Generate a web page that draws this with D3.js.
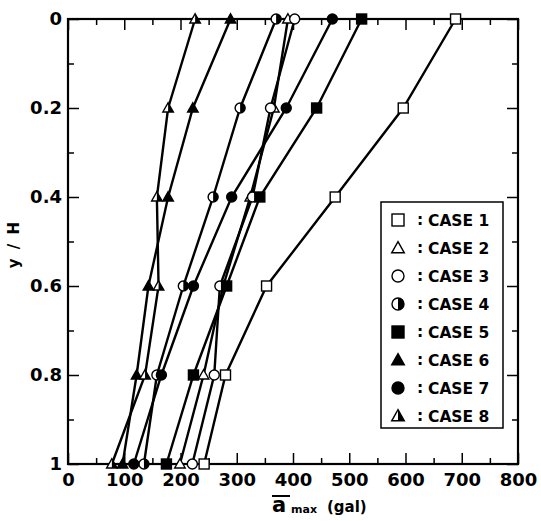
<!DOCTYPE html>
<html>
  <head>
    <title>amax-profile</title>
    <style>
      html,
      body {
        padding: 0;
        margin: 0;
        background: #fff;
      }
      svg {
        display: block;
        font-family: 'DejaVu Sans', sans-serif;
        font-weight: bold;
      }
    </style>
  </head>
  <body>
    <svg width="541" height="521"></svg>

    <script src="https://cdn.jsdelivr.net/npm/d3@7"></script>
    <script>
      // y / H levels
      const levels = [0, 0.2, 0.4, 0.6, 0.8, 1];
      // amax (gal) per case, read top to bottom
      const case1 = [689, 596, 475, 353, 280, 242];
      const case2 = [391, 366, 324, 276, 241, 199];
      const case3 = [403, 360, 328, 270, 260, 221];
      const case4 = [370, 306, 258, 205, 158, 135];
      const case5 = [522, 442, 341, 282, 223, 175];
      const case6 = [289, 222, 178, 143, 122, 97];
      const case7 = [470, 388, 291, 223, 166, 117];
      const case8 = [226, 178, 158, 161, 137, 78];
      const caseNames = ['CASE 1', 'CASE 2', 'CASE 3', 'CASE 4', 'CASE 5', 'CASE 6', 'CASE 7', 'CASE 8'];
      const caseMarks = ['square', 'triangle', 'circle', 'halfCircle', 'filledSquare', 'filledTriangle', 'filledCircle', 'halfTriangle'];
      const xMajorTicks = [0, 100, 200, 300, 400, 500, 600, 700, 800];
      const xMinorTicks = [50, 150, 250, 350, 450, 550, 650, 750];
      const yMajorTicks = [0, 0.2, 0.4, 0.6, 0.8, 1];
      const yMinorTicks = [0.1, 0.3, 0.5, 0.7, 0.9];
    </script>
    <script>
      const svg = d3.select('svg');
      const plotL = 68, plotR = 518, plotT = 19, plotB = 464;

      const x = d3.scaleLinear().domain([0, 800]).range([plotL, plotR]);
      const y = d3.scaleLinear().domain([0, 1]).range([plotT, plotB]);

      const series = [case1, case2, case3, case4, case5, case6, case7, case8].map((vals, i) => ({
        name: caseNames[i],
        mark: caseMarks[i],
        points: vals.map((v, j) => ({ v: v, h: levels[j] })),
      }));

      // axes, ticks pointing inward
      const fmtY = (d) => (d === 0 ? '0' : d === 1 ? '1' : d.toFixed(1));
      const axes = [
        [d3.axisBottom(x).tickValues(xMajorTicks).tickSize(-11).tickPadding(9), `translate(0,${plotB})`],
        [d3.axisBottom(x).tickValues(xMinorTicks).tickSize(-6).tickFormat(''), `translate(0,${plotB})`],
        [d3.axisTop(x).tickValues(xMajorTicks).tickSize(-11).tickFormat(''), `translate(0,${plotT})`],
        [d3.axisTop(x).tickValues(xMinorTicks).tickSize(-6).tickFormat(''), `translate(0,${plotT})`],
        [d3.axisLeft(y).tickValues(yMajorTicks).tickSize(-11).tickPadding(6).tickFormat(fmtY), `translate(${plotL},0)`],
        [d3.axisLeft(y).tickValues(yMinorTicks).tickSize(-6).tickFormat(''), `translate(${plotL},0)`],
        [d3.axisRight(y).tickValues(yMajorTicks).tickSize(-11).tickFormat(''), `translate(${plotR},0)`],
        [d3.axisRight(y).tickValues(yMinorTicks).tickSize(-6).tickFormat(''), `translate(${plotR},0)`],
      ];
      axes.forEach(([ax, tr]) => {
        const g = svg.append('g').attr('transform', tr).call(ax);
        g.select('.domain').remove();
        g.selectAll('line').attr('stroke', '#000').attr('stroke-width', 1.5);
        g.selectAll('text')
          .attr('fill', '#000')
          .style('font-family', "'DejaVu Sans', sans-serif")
          .style('font-weight', 'bold')
          .style('font-size', '18px');
      });

      svg
        .append('rect')
        .attr('x', plotL)
        .attr('y', plotT)
        .attr('width', plotR - plotL)
        .attr('height', plotB - plotT)
        .attr('fill', 'none')
        .attr('stroke', '#000')
        .attr('stroke-width', 2.2);

      // lines
      const line = d3
        .line()
        .x((d) => x(d.v))
        .y((d) => y(d.h));

      svg
        .append('g')
        .selectAll('path')
        .data(series)
        .join('path')
        .attr('d', (d) => line(d.points))
        .attr('fill', 'none')
        .attr('stroke', '#000')
        .attr('stroke-width', 2.4);

      // marker drawing
      function drawMark(g, type, s) {
        const r = s / 2;
        const tri = `M0,${-r * 1.05}L${r * 1.05},${r * 0.8}L${-r * 1.05},${r * 0.8}Z`;
        if (type === 'square' || type === 'filledSquare') {
          g.append('rect')
            .attr('x', -r)
            .attr('y', -r)
            .attr('width', s)
            .attr('height', s)
            .attr('fill', type === 'square' ? '#fff' : '#000')
            .attr('stroke', '#000')
            .attr('stroke-width', 1.4);
        } else if (type === 'circle' || type === 'filledCircle') {
          g.append('circle')
            .attr('r', r)
            .attr('fill', type === 'circle' ? '#fff' : '#000')
            .attr('stroke', '#000')
            .attr('stroke-width', 1.4);
        } else if (type === 'halfCircle') {
          g.append('circle').attr('r', r).attr('fill', '#fff').attr('stroke', '#000').attr('stroke-width', 1.4);
          g.append('path').attr('d', `M0,${-r}A${r},${r} 0 0 1 0,${r}Z`).attr('fill', '#000');
        } else if (type === 'triangle' || type === 'filledTriangle') {
          g.append('path')
            .attr('d', tri)
            .attr('fill', type === 'triangle' ? '#fff' : '#000')
            .attr('stroke', '#000')
            .attr('stroke-width', 1.4);
        } else if (type === 'halfTriangle') {
          g.append('path').attr('d', tri).attr('fill', '#fff').attr('stroke', '#000').attr('stroke-width', 1.4);
          g.append('path')
            .attr('d', `M0,${-r * 1.05}L${r * 1.05},${r * 0.8}L0,${r * 0.8}Z`)
            .attr('fill', '#000');
        }
      }

      const markG = svg.append('g');
      series.forEach((s) => {
        s.points.forEach((p) => {
          const g = markG.append('g').attr('transform', `translate(${x(p.v)},${y(p.h)})`);
          drawMark(g, s.mark, 10);
        });
      });

      // legend
      const legend = svg.append('g').attr('transform', 'translate(381,202)');
      legend
        .append('rect')
        .attr('width', 122)
        .attr('height', 226)
        .attr('fill', '#fff')
        .attr('stroke', '#000')
        .attr('stroke-width', 1.5);
      series.forEach((s, i) => {
        const row = legend.append('g').attr('transform', `translate(0,${18 + i * 28})`);
        drawMark(row.append('g').attr('transform', 'translate(17,0)'), s.mark, 12);
        row.append('text').attr('x', 36).attr('y', 5).style('font-size', '15.5px').text(':');
        row.append('text').attr('x', 47).attr('y', 5.5).style('font-size', '15.5px').text(s.name);
      });

      // y label
      svg
        .append('text')
        .attr('transform', 'translate(19,244) rotate(-90)')
        .attr('text-anchor', 'middle')
        .style('font-size', '15px')
        .style('letter-spacing', '2px')
        .text('y / H');

      // x label: a-bar max (gal)
      const xl = svg.append('g');
      xl.append('text').attr('x', 272).attr('y', 512).style('font-size', '21px').text('a');
      xl.append('line')
        .attr('x1', 272)
        .attr('x2', 290)
        .attr('y1', 496)
        .attr('y2', 496)
        .attr('stroke', '#000')
        .attr('stroke-width', 2);
      xl.append('text').attr('x', 291).attr('y', 513).style('font-size', '11px').text('max');
      xl.append('text').attr('x', 327).attr('y', 512).style('font-size', '15px').text('(gal)');
    </script>
  </body>
</html>
